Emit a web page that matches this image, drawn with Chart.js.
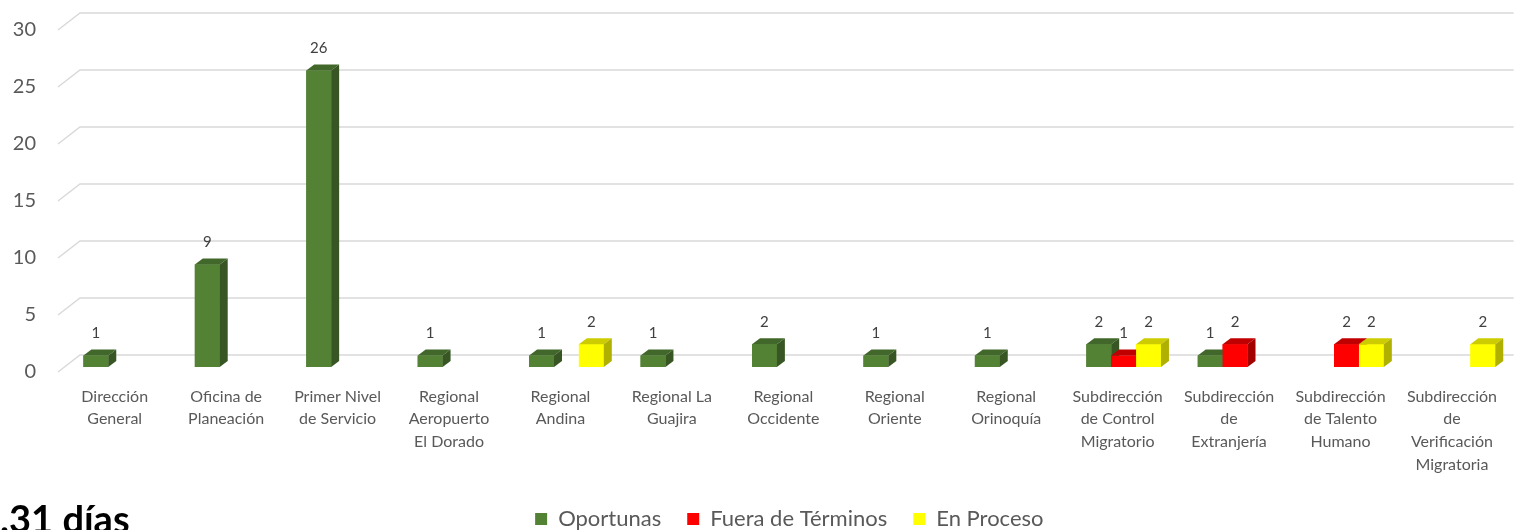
<!DOCTYPE html>
<html>
<head>
<meta charset="utf-8">
<script src="https://cdn.jsdelivr.net/npm/chart.js@4"></script>
<style>
  body { margin: 0; background: #fff; overflow: hidden; }
  #wrap { position: relative; width: 1521px; height: 530px; overflow: hidden; }
  #box { position: absolute; left: 0; top: 0; width: 1521px; height: 540px; }
  #dias { position: absolute; left: -22px; top: 499px; font: bold 38px/38px Lato; color: #000; white-space: nowrap; }
</style>
</head>
<body>
<div id="wrap">
  <div id="box"><canvas id="chart"></canvas></div>
  <div id="dias">1.31 días</div>
</div>
<script>
const categories = [
  ['Dirección', 'General'],
  ['Oficina de', 'Planeación'],
  ['Primer Nivel', 'de Servicio'],
  ['Regional', 'Aeropuerto', 'El Dorado'],
  ['Regional', 'Andina'],
  ['Regional La', 'Guajira'],
  ['Regional', 'Occidente'],
  ['Regional', 'Oriente'],
  ['Regional', 'Orinoquía'],
  ['Subdirección', 'de Control', 'Migratorio'],
  ['Subdirección', 'de', 'Extranjería'],
  ['Subdirección', 'de Talento', 'Humano'],
  ['Subdirección', 'de', 'Verificación', 'Migratoria']
];
const oportunas = [1, 9, 26, 1, 1, 1, 2, 1, 1, 2, 1, null, null];
const fueraDeTerminos = [null, null, null, null, null, null, null, null, null, 1, 2, 2, null];
const enProceso = [null, null, null, null, 2, null, null, null, null, 2, null, 2, 2];
const yTicks = [0, 5, 10, 15, 20, 25, 30];

// front, top, side
const shades = [
  ['#548235', '#41672a', '#375623'],
  ['#ff0000', '#c00000', '#a30000'],
  ['#ffff00', '#cccc00', '#b0b000']
];
const depthX = 8, depthY = 6;

// back wall gridlines, drawn before the bars
const wallGrid = {
  id: 'wallGrid',
  beforeDatasetsDraw(chart) {
    const {ctx, scales: {y}, chartArea} = chart;
    ctx.save();
    ctx.strokeStyle = '#d9d9d9';
    ctx.lineWidth = 1.5;
    yTicks.forEach(v => {
      const py = y.getPixelForValue(v);
      ctx.beginPath();
      ctx.moveTo(chartArea.left - 7, py + 5);
      ctx.lineTo(chartArea.left + 15, py - 12);
      ctx.lineTo(chartArea.right, py - 12);
      ctx.stroke();
    });
    ctx.restore();
  }
};

// side and top faces plus value labels
const boxes = {
  id: 'boxes',
  afterDatasetsDraw(chart) {
    const ctx = chart.ctx;
    ctx.save();
    categories.forEach((c, i) => {
      chart.data.datasets.forEach((ds, d) => {
        if (ds.data[i] == null) return;
        const bar = chart.getDatasetMeta(d).data[i];
        const l = bar.x - bar.width / 2, r = bar.x + bar.width / 2;
        const t = bar.y, b = bar.base;
        ctx.fillStyle = shades[d][0];
        ctx.fillRect(l, t, r - l, b - t);
        ctx.fillStyle = shades[d][1];
        ctx.beginPath();
        ctx.moveTo(l, t);
        ctx.lineTo(l + depthX, t - depthY);
        ctx.lineTo(r + depthX, t - depthY);
        ctx.lineTo(r, t);
        ctx.closePath();
        ctx.fill();
        ctx.fillStyle = shades[d][2];
        ctx.beginPath();
        ctx.moveTo(r, t);
        ctx.lineTo(r + depthX, t - depthY);
        ctx.lineTo(r + depthX, b - depthY);
        ctx.lineTo(r, b);
        ctx.closePath();
        ctx.fill();
      });
    });
    ctx.fillStyle = '#404040';
    ctx.font = '15px Lato';
    ctx.textAlign = 'center';
    ctx.textBaseline = 'middle';
    chart.data.datasets.forEach((ds, d) => {
      chart.getDatasetMeta(d).data.forEach((bar, i) => {
        if (ds.data[i] == null) return;
        ctx.fillText(ds.data[i], bar.x, bar.y - 22);
      });
    });
    ctx.restore();
  }
};

new Chart(document.getElementById('chart'), {
  type: 'bar',
  data: {
    labels: categories,
    datasets: [
      { label: 'Oportunas', data: oportunas, backgroundColor: shades[0][0] },
      { label: 'Fuera de Términos', data: fueraDeTerminos, backgroundColor: shades[1][0] },
      { label: 'En Proceso', data: enProceso, backgroundColor: shades[2][0] }
    ]
  },
  options: {
    responsive: true,
    maintainAspectRatio: false,
    animation: false,
    categoryPercentage: 0.67,
    barPercentage: 1,
    layout: { padding: { top: 25, left: 0, right: 0, bottom: 0 } },
    scales: {
      x: {
        grid: { display: false, drawTicks: false },
        border: { display: false },
        ticks: {
          color: '#595959',
          font: { family: 'Lato', size: 16, lineHeight: 1.42 },
          padding: 18,
          labelOffset: -6,
          maxRotation: 0,
          autoSkip: false
        },
        afterFit: s => { s.height = 115; }
      },
      y: {
        min: 0,
        max: 30,
        grid: { display: false, drawTicks: false },
        border: { display: false },
        ticks: {
          stepSize: 5,
          color: '#595959',
          font: { family: 'Lato', size: 20 },
          padding: 29,
          labelOffset: 5
        },
        afterFit: s => { s.width = 65; s.paddingTop = 0; s.paddingBottom = 0; }
      }
    },
    plugins: {
      legend: {
        position: 'bottom',
        fullSize: false,
        labels: {
          boxWidth: 12,
          boxHeight: 12,
          padding: 26,
          color: '#595959',
          font: { family: 'Lato', size: 22 }
        }
      },
      tooltip: { enabled: false }
    }
  },
  plugins: [wallGrid, boxes]
});
</script>
</body>
</html>
